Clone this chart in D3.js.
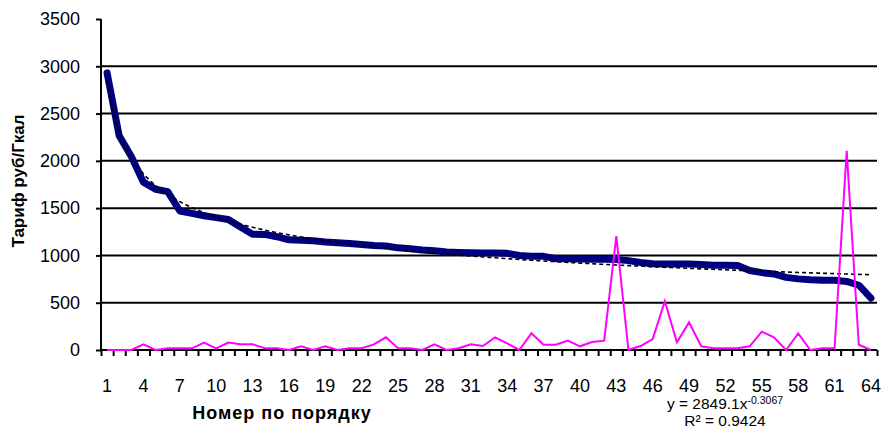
<!DOCTYPE html>
<html>
<head>
<meta charset="utf-8">
<script src="https://cdn.jsdelivr.net/npm/d3@7"></script>
<style>
  html, body { margin: 0; padding: 0; background: #fff; }
  svg { display: block; font-family: "Liberation Sans", Arial, sans-serif; }
</style>
</head>
<body>
<svg id="chart" width="883" height="435"></svg>
<script>
// Order numbers of the suppliers (1..64)
const positions = d3.range(1, 65);

// Heat tariff, rub/Gcal, sorted in descending order
const tariff = [
  2930, 2265, 2045, 1775, 1700, 1675, 1470, 1445, 1420, 1400,
  1380, 1300, 1225, 1222, 1198, 1165, 1160, 1155, 1142, 1135,
  1125, 1115, 1105, 1100, 1080, 1070, 1057, 1050, 1036, 1032,
  1029, 1027, 1025, 1022, 1000, 992, 990, 966, 964, 962,
  960, 959, 957, 945, 925, 912, 910, 910, 910, 905,
  895, 895, 893, 840, 818, 804, 768, 752, 742, 738,
  737, 725, 685, 548
];

// Difference series (thin magenta line)
const difference = [
  0, 0, 0, 60, 0, 18, 18, 18, 78, 18,
  78, 60, 60, 18, 18, 0, 39, 0, 39, 0,
  18, 18, 60, 134, 18, 18, 0, 60, 0, 18,
  60, 42, 134, 70, 0, 176, 56, 56, 99, 39,
  84, 99, 1205, 0, 42, 116, 517, 81, 292, 39,
  18, 18, 18, 39, 194, 134, 0, 176, 0, 18,
  18, 2105, 56, 0
];

// Power trend line y = a * x^b and its fit quality
const trendA = 2849.1;
const trendB = -0.3067;
const trendR2 = 0.9424;

const yTicks = [0, 500, 1000, 1500, 2000, 2500, 3000, 3500];
const xLabelEvery = 3;

const svg = d3.select("#chart");
const plot = { left: 101, right: 877, top: 19, bottom: 350 };

const x = d3.scaleBand().domain(positions).range([plot.left, plot.right]).padding(0);
const xc = d => x(d) + x.bandwidth() / 2;
// continuous position scale for the trend curve (category centres)
const xLin = d3.scaleLinear().domain([1, 64]).range([xc(1), xc(64)]);
const xEdge = d3.scaleLinear().domain([0, 64]).range([plot.left, plot.right]);
const y = d3.scaleLinear().domain([0, 3500]).range([plot.bottom, plot.top]);

// horizontal gridlines
svg.append("g")
  .selectAll("line")
  .data(yTicks.filter(v => v > 0 && v < 3500))
  .join("line")
  .attr("x1", plot.left).attr("x2", plot.right)
  .attr("y1", d => y(d)).attr("y2", d => y(d))
  .attr("stroke", "#000").attr("stroke-width", 2);

// y axis
const yAxis = svg.append("g")
  .attr("transform", `translate(${plot.left},0)`)
  .call(d3.axisLeft(y).tickValues(yTicks).tickSize(5).tickPadding(16).tickFormat(d3.format("d")));
yAxis.select(".domain").attr("stroke-width", 2).attr("d", `M0,${plot.top}V${plot.bottom}`);
yAxis.selectAll(".tick line").attr("stroke-width", 2);
yAxis.selectAll("text").attr("font-size", 18).attr("fill", "#000");

// x axis: tick marks between categories
const xAxisMarks = svg.append("g")
  .attr("transform", `translate(0,${plot.bottom})`)
  .call(d3.axisBottom(xEdge).tickValues(d3.range(0, 65)).tickSize(6).tickFormat(""));
xAxisMarks.select(".domain").attr("stroke-width", 2).attr("d", `M${plot.left},0H${plot.right}`);
xAxisMarks.selectAll(".tick line").attr("stroke-width", 2);

// x axis: labels on every third category
const xAxisLabels = svg.append("g")
  .attr("transform", `translate(0,${plot.bottom})`)
  .call(d3.axisBottom(x)
    .tickValues(positions.filter(d => (d - 1) % xLabelEvery === 0))
    .tickSize(0).tickPadding(29));
xAxisLabels.select(".domain").remove();
xAxisLabels.selectAll("text").attr("font-size", 18).attr("fill", "#000");

// tariff line
svg.append("path")
  .datum(tariff)
  .attr("fill", "none")
  .attr("stroke", "#000080")
  .attr("stroke-width", 7)
  .attr("stroke-linejoin", "round")
  .attr("stroke-linecap", "round")
  .attr("d", d3.line().x((d, i) => xc(positions[i])).y(d => y(d)));

// power trend line from the fitted equation
const trendX = d3.range(1, 64.001, 0.25);
svg.append("path")
  .datum(trendX)
  .attr("fill", "none")
  .attr("stroke", "#000")
  .attr("stroke-width", 1.6)
  .attr("stroke-dasharray", "4,3")
  .attr("d", d3.line().x(d => xLin(d)).y(d => y(trendA * Math.pow(d, trendB))));

// difference line
svg.append("path")
  .datum(difference)
  .attr("fill", "none")
  .attr("stroke", "#ff00ff")
  .attr("stroke-width", 2)
  .attr("stroke-linejoin", "miter")
  .attr("d", d3.line().x((d, i) => xc(positions[i])).y(d => y(d)));

// axis titles
svg.append("text")
  .attr("x", 282).attr("y", 419)
  .attr("text-anchor", "middle")
  .attr("font-size", 18).attr("font-weight", "bold")
  .attr("letter-spacing", 1)
  .text("Номер по порядку");

svg.append("text")
  .attr("transform", "translate(24,181) rotate(-90)")
  .attr("text-anchor", "middle")
  .attr("font-size", 17).attr("font-weight", "bold")
  .text("Тариф руб/Гкал");

// trend equation label
const eq = svg.append("text")
  .attr("x", 725).attr("y", 409)
  .attr("text-anchor", "middle")
  .attr("font-size", 15.5);
eq.append("tspan").text(`y = ${trendA}x`);
eq.append("tspan").attr("dy", -5).attr("font-size", 10.5).text(String(trendB));

svg.append("text")
  .attr("x", 725).attr("y", 426)
  .attr("text-anchor", "middle")
  .attr("font-size", 15.5)
  .text(`R² = ${trendR2}`);
</script>
</body>
</html>
